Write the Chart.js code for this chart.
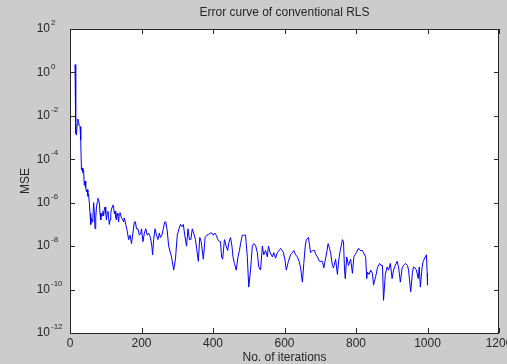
<!DOCTYPE html>
<html>
<head>
<meta charset="utf-8">
<title>Error curve of conventional RLS</title>
<script src="https://cdn.jsdelivr.net/npm/chart.js@4.4.0/dist/chart.umd.min.js"></script>
<style>
  html, body { margin: 0; padding: 0; background: #cccccc; }
  canvas { display: block; }
</style>
</head>
<body>
<canvas id="mseChart" width="507" height="364"></canvas>
<script>
// Iteration index and MSE
const iterations = [
  14, 16, 18, 20, 22, 24, 26, 28, 30, 32, 34, 36, 38, 40, 42, 44, 46, 48, 50, 52,
  54, 56, 58, 60, 62, 64, 66, 68, 70, 72, 74, 76, 78, 80, 82, 84, 86, 88, 90, 92,
  94, 96, 98, 100, 102, 104, 106, 108, 110, 112, 114, 116, 118, 120, 122, 124, 126, 128, 130, 132,
  134, 136, 138, 140, 144, 148, 150, 152, 156, 160, 164, 168, 172, 176, 180, 183, 186, 190, 194, 198,
  200, 204, 208, 212, 216, 220, 225, 229, 231, 234, 238, 242, 246, 250, 253, 257, 261, 265, 268, 272,
  276, 284, 290, 295, 300, 305, 309, 313, 317, 321, 326, 330, 334, 338, 342, 346, 351, 355, 359, 363,
  367, 373, 378, 383, 388, 393, 397, 401, 405, 409, 414, 418, 421, 424, 427, 432, 437, 441, 445, 449,
  453, 456, 460, 465, 470, 474, 477, 482, 486, 491, 496, 500, 505, 510, 514, 519, 524, 528, 533, 538,
  542, 547, 552, 555, 560, 566, 570, 575, 580, 585, 589, 594, 597, 601, 605, 611, 617, 622, 626, 631,
  636, 641, 645, 650, 654, 658, 661, 667, 673, 679, 684, 688, 692, 698, 706, 710, 715, 719, 722, 726,
  729, 734, 737, 743, 748, 752, 756, 762, 765, 768, 770, 774, 779, 785, 790, 794, 801, 807, 812, 818,
  821, 827, 830, 832, 837, 841, 846, 849, 855, 860, 866, 870, 874, 877, 882, 887, 891, 896, 901, 905,
  910, 915, 919, 924, 929, 933, 938, 944, 947, 953, 958, 961, 965, 969, 974, 977, 980, 985, 988, 994,
  997, 999, 1000
];
const mse = [
  2.3e0, 1.6e-3, 1.3e-3, 4.0e-3, 7.1e-3, 5.0e-3, 3.5e-3, 3.2e-3, 7.9e-4, 3.2e-5, 4.0e-5, 2.5e-5, 3.2e-5, 6.3e-6, 1.0e-5, 5.0e-6, 3.2e-6, 4.0e-6, 2.0e-6, 2.5e-6,
  1.0e-6, 3.2e-7, 1.0e-7, 2.0e-7, 1.3e-7, 2.0e-7, 1.0e-6, 4.0e-7, 6.3e-8, 2.0e-7, 6.3e-7, 1.0e-6, 1.6e-6, 1.3e-6, 1.0e-6, 3.2e-7, 1.6e-7, 3.2e-7, 2.5e-7, 4.0e-7,
  2.5e-7, 5.0e-7, 6.3e-7, 3.2e-7, 1.6e-7, 3.2e-7, 4.0e-7, 2.0e-7, 1.0e-7, 1.6e-7, 3.2e-7, 5.0e-7, 6.3e-7, 7.9e-7, 6.3e-7, 3.2e-7, 4.0e-7, 2.0e-7, 1.6e-7, 3.2e-7,
  2.5e-7, 1.3e-7, 3.2e-7, 3.5e-7, 2.0e-7, 1.6e-7, 1.3e-7, 2.0e-7, 1.0e-7, 5.0e-8, 2.0e-8, 3.2e-8, 1.3e-8, 4.0e-8, 1.3e-7, 1.3e-7, 6.3e-8, 6.3e-8, 3.2e-8, 4.0e-8,
  6.3e-8, 1.6e-8, 4.0e-8, 6.3e-8, 3.2e-8, 4.0e-8, 2.5e-8, 1.0e-8, 4.0e-9, 2.0e-8, 6.3e-8, 3.2e-8, 2.0e-8, 4.0e-8, 2.5e-8, 3.2e-8, 6.3e-8, 1.3e-7, 1.3e-7, 5.0e-8,
  1.0e-8, 3.2e-9, 7.9e-10, 2.5e-9, 3.2e-8, 6.3e-8, 1.0e-7, 7.9e-8, 1.0e-7, 3.2e-8, 1.0e-8, 6.3e-8, 2.0e-8, 2.0e-8, 6.3e-8, 4.0e-8, 2.0e-8, 6.3e-9, 2.0e-9, 2.5e-8,
  1.6e-8, 2.5e-9, 2.5e-8, 3.2e-8, 3.5e-8, 4.0e-8, 4.0e-8, 3.2e-8, 4.0e-8, 3.2e-8, 2.0e-8, 1.6e-8, 1.6e-8, 3.2e-9, 2.5e-9, 2.0e-8, 1.0e-8, 6.3e-9, 1.6e-8, 2.5e-8,
  1.0e-8, 3.2e-9, 1.6e-9, 7.9e-10, 3.2e-9, 6.3e-9, 1.3e-8, 3.2e-8, 3.2e-8, 3.2e-8, 3.2e-9, 1.3e-10, 7.9e-10, 1.0e-8, 1.3e-8, 1.1e-8, 5.0e-9, 1.1e-9, 7.9e-10, 1.0e-8,
  4.0e-9, 6.3e-9, 3.2e-9, 1.0e-8, 5.0e-9, 3.2e-9, 5.0e-9, 2.8e-9, 5.0e-9, 6.3e-9, 7.9e-9, 6.3e-9, 5.0e-9, 2.5e-9, 7.9e-10, 2.0e-9, 4.0e-9, 5.0e-9, 6.3e-9, 4.0e-9,
  3.2e-9, 2.0e-9, 1.0e-9, 2.2e-10, 1.6e-9, 1.0e-8, 2.0e-8, 2.5e-8, 5.0e-9, 6.3e-9, 6.3e-9, 4.0e-9, 3.2e-9, 2.0e-9, 2.0e-9, 1.0e-9, 2.8e-9, 6.3e-9, 1.3e-8, 7.9e-9,
  5.0e-9, 1.3e-9, 1.0e-9, 2.5e-9, 5.0e-10, 2.5e-9, 6.3e-9, 2.0e-8, 1.6e-8, 7.9e-10, 3.2e-10, 3.2e-9, 1.3e-9, 2.5e-9, 5.6e-10, 3.2e-9, 5.0e-9, 7.9e-9, 6.3e-9, 6.3e-9,
  5.0e-9, 3.2e-9, 3.2e-10, 6.3e-10, 5.0e-10, 7.9e-10, 5.6e-10, 1.6e-10, 4.0e-10, 1.0e-9, 1.6e-9, 1.3e-9, 1.3e-9, 3.2e-11, 5.0e-10, 1.1e-9, 7.9e-10, 1.6e-9, 3.2e-10, 7.9e-10,
  1.3e-9, 2.0e-9, 1.1e-9, 2.2e-10, 1.0e-9, 1.3e-9, 1.6e-9, 1.3e-9, 7.9e-10, 7.9e-11, 6.3e-10, 1.1e-9, 1.0e-9, 7.9e-10, 3.2e-10, 1.1e-9, 1.3e-10, 1.1e-9, 2.0e-9, 3.2e-9,
  4.0e-9, 5.6e-10, 1.6e-10
];

// Axis ticks
const xTicks = [0, 200, 400, 600, 800, 1000, 1200];
const yTickValues = [1e2, 1e0, 1e-2, 1e-4, 1e-6, 1e-8, 1e-10, 1e-12];
const yTickExponents = ['2', '0', '-2', '-4', '-6', '-8', '-10', '-12'];

const FONT = 'Arial, "Liberation Sans", sans-serif';
const AXIS_COLOR = '#262626';
const TICK_LEN = 5;

// MATLAB style frame: grey figure, white axes, inward ticks, 10^n labels
const matlabFrame = {
  id: 'matlabFrame',
  beforeDraw(chart) {
    const { ctx, chartArea: a } = chart;
    ctx.save();
    ctx.fillStyle = '#cccccc';
    ctx.fillRect(0, 0, chart.width, chart.height);
    ctx.fillStyle = '#ffffff';
    ctx.fillRect(a.left, a.top, a.right - a.left, a.bottom - a.top);
    ctx.restore();
  },
  afterDraw(chart) {
    const { ctx, chartArea: a } = chart;
    const xs = chart.scales.x;
    const ys = chart.scales.y;
    ctx.save();
    ctx.strokeStyle = AXIS_COLOR;
    ctx.lineWidth = 1;
    ctx.strokeRect(Math.round(a.left) + 0.5, Math.round(a.top) + 0.5,
      Math.round(a.right - a.left) - 1, Math.round(a.bottom - a.top));

    ctx.beginPath();
    xTicks.forEach(v => {
      const px = Math.round(xs.getPixelForValue(v)) + 0.5;
      ctx.moveTo(px, a.bottom);
      ctx.lineTo(px, a.bottom - TICK_LEN);
      ctx.moveTo(px, a.top);
      ctx.lineTo(px, a.top + TICK_LEN);
    });
    yTickValues.forEach(v => {
      const py = Math.round(ys.getPixelForValue(v)) + 0.5;
      ctx.moveTo(a.left, py);
      ctx.lineTo(a.left + TICK_LEN, py);
      ctx.moveTo(a.right, py);
      ctx.lineTo(a.right - TICK_LEN, py);
    });
    ctx.stroke();

    // y tick labels as 10 with a raised exponent
    ctx.fillStyle = AXIS_COLOR;
    ctx.textBaseline = 'middle';
    yTickValues.forEach((v, i) => {
      const py = ys.getPixelForValue(v);
      ctx.font = '12px ' + FONT;
      ctx.textAlign = 'right';
      ctx.fillText('10', 50, py);
      ctx.font = '8px ' + FONT;
      ctx.textAlign = 'left';
      ctx.fillText(yTickExponents[i], 51, py - 6);
    });

    // title centred over the axes
    ctx.font = '12px ' + FONT;
    ctx.textAlign = 'center';
    ctx.fillText('Error curve of conventional RLS', (a.left + a.right) / 2, 13);
    ctx.restore();
  }
};

const ctx = document.getElementById('mseChart');
new Chart(ctx, {
  type: 'line',
  data: {
    datasets: [{
      label: 'MSE',
      data: iterations.map((it, i) => ({ x: it, y: mse[i] })),
      borderColor: 'rgb(0, 0, 255)',
      borderWidth: 1,
      pointRadius: 0,
      tension: 0,
      fill: false
    }]
  },
  options: {
    responsive: false,
    animation: false,
    devicePixelRatio: 1,
    layout: {
      autoPadding: false,
      padding: { top: 29, right: 8, left: 0, bottom: 0 }
    },
    plugins: {
      legend: { display: false },
      title: { display: false },
      tooltip: { enabled: false }
    },
    scales: {
      x: {
        type: 'linear',
        min: 0,
        max: 1200,
        afterFit: s => { s.height = 31; s.paddingLeft = 0; s.paddingRight = 0; },
        afterBuildTicks: s => { s.ticks = xTicks.map(v => ({ value: v })); },
        grid: { display: false, drawTicks: false },
        border: { display: false },
        ticks: {
          padding: 3,
          maxRotation: 0,
          autoSkip: false,
          color: AXIS_COLOR,
          font: { family: FONT, size: 12 },
          callback: v => String(v)
        },
        title: {
          display: true,
          text: 'No. of iterations',
          color: AXIS_COLOR,
          padding: { top: 0, bottom: 0 },
          font: { family: FONT, size: 12, lineHeight: 1 }
        }
      },
      y: {
        type: 'logarithmic',
        min: 1e-12,
        max: 1e2,
        afterFit: s => { s.width = 70; s.paddingTop = 0; s.paddingBottom = 0; },
        grid: { display: false, drawTicks: false },
        border: { display: false },
        ticks: { display: false },
        title: {
          display: true,
          text: 'MSE',
          color: AXIS_COLOR,
          padding: { top: 18, bottom: 0 },
          font: { family: FONT, size: 12 }
        }
      }
    }
  },
  plugins: [matlabFrame]
});
</script>
</body>
</html>
